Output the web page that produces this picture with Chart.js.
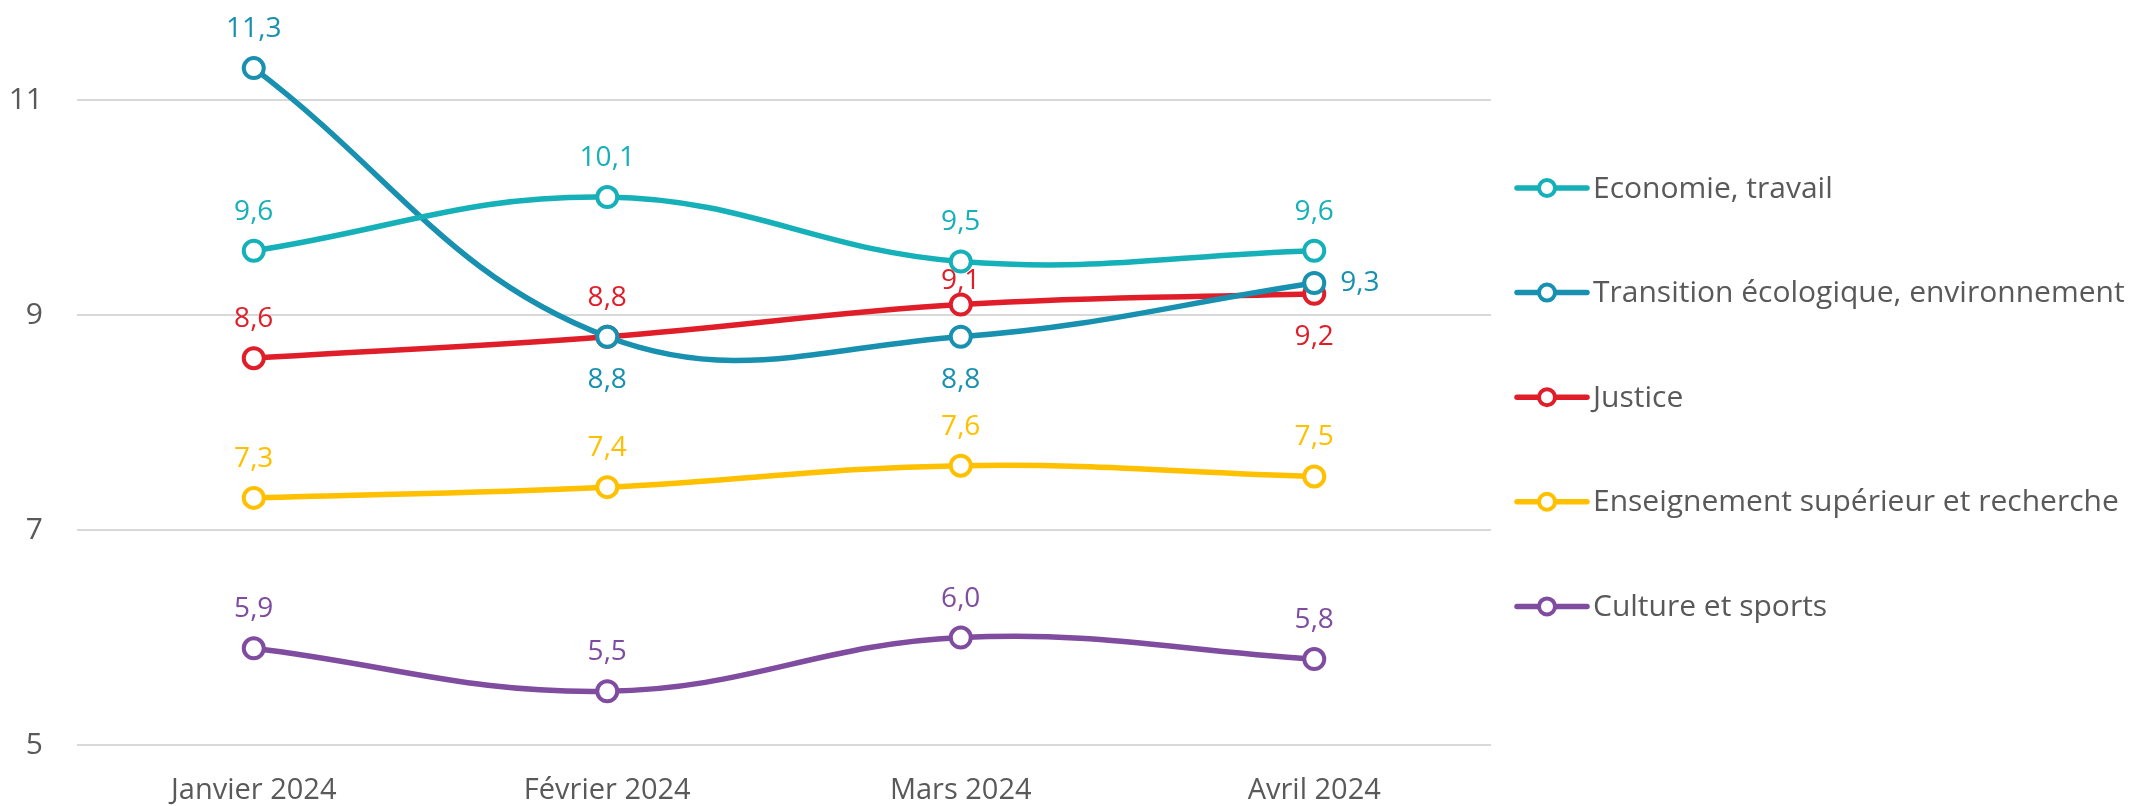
<!DOCTYPE html>
<html>
<head>
<meta charset="utf-8">
<script src="https://cdn.jsdelivr.net/npm/chart.js@4.4.1/dist/chart.umd.min.js"></script>
<style>
  html, body { margin: 0; padding: 0; background: #fff; }
  #wrap { width: 2131px; height: 806px; position: relative; }
</style>
</head>
<body>
<div id="wrap"><canvas id="chart"></canvas></div>
<script>
const months = ['Janvier 2024', 'Février 2024', 'Mars 2024', 'Avril 2024'];
const yTicks = [5, 7, 9, 11];

const economie = [9.6, 10.1, 9.5, 9.6];
const transition = [11.3, 8.8, 8.8, 9.3];
const justice = [8.6, 8.8, 9.1, 9.2];
const enseignement = [7.3, 7.4, 7.6, 7.5];
const culture = [5.9, 5.5, 6.0, 5.8];

const FONT = "'Open Sans', 'Noto Sans', sans-serif";
const TEXT_GREY = '#595959';

const makeSeries = (label, data, color, labelPos) => ({
    label,
    data,
    borderColor: color,
    backgroundColor: '#ffffff',
    borderWidth: 5.5,
    pointRadius: 10,
    pointBorderWidth: 4,
    pointBackgroundColor: '#ffffff',
    pointBorderColor: color,
    tension: 0.4,
    clip: false,
    labelPos
});

const datasets = [
    makeSeries('Economie, travail', economie, '#16B0B9', ['top', 'top', 'top', 'top']),
    makeSeries('Transition écologique, environnement', transition, '#1890B0', ['top', 'bottom', 'bottom', 'right']),
    makeSeries('Justice', justice, '#E01E2A', ['top', 'top', 'near', 'bottom']),
    makeSeries('Enseignement supérieur et recherche', enseignement, '#FFC000', ['top', 'top', 'top', 'top']),
    makeSeries('Culture et sports', culture, '#7F4C9F', ['top', 'top', 'top', 'top'])
];

// label offsets from the point (px)
const labelOffsets = { top: -39, near: -23, bottom: 43 };

// value labels, french decimal comma
const valueLabels = {
    id: 'valueLabels',
    afterDatasetsDraw(chart) {
        const ctx = chart.ctx;
        ctx.save();
        ctx.font = '28px ' + FONT;
        ctx.textBaseline = 'middle';
        chart.data.datasets.forEach((ds, di) => {
            const meta = chart.getDatasetMeta(di);
            meta.data.forEach((pt, i) => {
                const txt = ds.data[i].toFixed(1).replace('.', ',');
                const pos = ds.labelPos[i];
                ctx.fillStyle = ds.borderColor;
                if (pos === 'right') {
                    ctx.textAlign = 'left';
                    ctx.fillText(txt, pt.x + 26, pt.y);
                } else {
                    ctx.textAlign = 'center';
                    ctx.fillText(txt, pt.x, pt.y + labelOffsets[pos]);
                }
            });
        });
        ctx.restore();
    }
};

// legend on the right: line + hollow circle, then label
const sideLegend = {
    id: 'sideLegend',
    afterDraw(chart) {
        const ctx = chart.ctx;
        const x0 = chart.chartArea.right + 26;
        const top = 188, step = 104.6;
        ctx.save();
        ctx.font = '30px ' + FONT;
        ctx.textBaseline = 'middle';
        ctx.textAlign = 'left';
        chart.data.datasets.forEach((ds, i) => {
            const y = top + i * step;
            ctx.strokeStyle = ds.borderColor;
            ctx.lineWidth = 5.5;
            ctx.lineCap = 'round';
            ctx.beginPath();
            ctx.moveTo(x0, y);
            ctx.lineTo(x0 + 70, y);
            ctx.stroke();
            ctx.beginPath();
            ctx.arc(x0 + 30, y, 8, 0, Math.PI * 2);
            ctx.fillStyle = '#fff';
            ctx.fill();
            ctx.lineWidth = 4;
            ctx.stroke();
            ctx.fillStyle = TEXT_GREY;
            ctx.fillText(ds.label, x0 + 76, y + 1);
        });
        ctx.restore();
    }
};

new Chart(document.getElementById('chart'), {
    type: 'line',
    data: { labels: months, datasets },
    plugins: [valueLabels, sideLegend],
    options: {
        responsive: true,
        maintainAspectRatio: false,
        animation: false,
        layout: { padding: { top: 0, right: 640, left: 0, bottom: 0 } },
        scales: {
            x: {
                offset: true,
                grid: { display: false },
                border: { display: false },
                ticks: { color: TEXT_GREY, font: { family: FONT, size: 29 }, padding: 20 },
                afterFit: (scale) => { scale.height = 61; }
            },
            y: {
                min: 5,
                max: 11.45,
                afterBuildTicks: (scale) => { scale.ticks = yTicks.map(v => ({ value: v })); },
                grid: { color: '#d9d9d9', lineWidth: 2, drawTicks: false },
                border: { display: false },
                ticks: { color: TEXT_GREY, font: { family: FONT, size: 30 }, padding: 34 },
                afterFit: (scale) => { scale.width = 77; }
            }
        },
        plugins: {
            legend: { display: false },
            tooltip: { enabled: false }
        }
    }
});
</script>
</body>
</html>
